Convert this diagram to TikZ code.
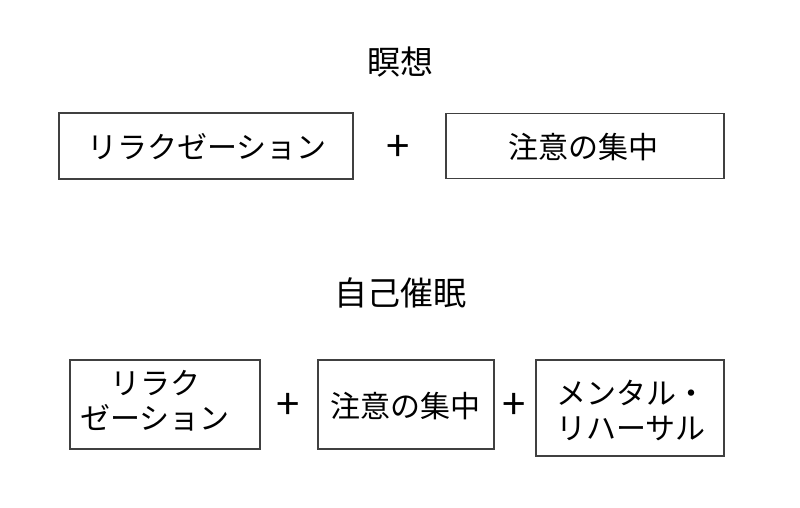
\documentclass[tikz,border=0pt]{standalone}
\usepackage{fontspec}
\setmainfont{Noto Sans CJK JP}
\begin{document}
\begin{tikzpicture}[x=1pt,y=-1pt,
  box/.style={draw=black!75, line width=1.3pt, fill=white, inner sep=0pt, anchor=center},
  txt/.style={font=\fontsize{30}{35}\selectfont, align=center, inner sep=0pt, anchor=center},
  ttl/.style={font=\fontsize{33}{38}\selectfont, inner sep=0pt, anchor=center},
  plus/.style={font=\fontsize{42}{44}\selectfont, inner sep=0pt, anchor=center}]
\useasboundingbox (0,0) rectangle (800,508);
\fill[white] (0,0) rectangle (800,508);
% top
\node[ttl] (t1) at (400,62) {瞑想};
\node[box, minimum width=294pt, minimum height=66pt] (b1) at (206,146) {};
\node[txt] (b1t) at (207,147) {リラクゼーション};
\node[plus] (p1) at (398,148) {+};
\node[box, minimum width=278pt, minimum height=65pt] (b2) at (585,146) {};
\node[txt] (b2t) at (583,147) {注意の集中};
% bottom
\node[ttl] (t2) at (400,293) {自己催眠};
\node[box, minimum width=190pt, minimum height=89pt] (c1) at (165,404.5) {};
\node[txt] (c1t) at (155,401) {リラク\\ゼーション};
\node[plus] (p2) at (288,406) {+};
\node[box, minimum width=176pt, minimum height=89pt] (c2) at (406,404.5) {};
\node[txt] (c2t) at (405,406) {注意の集中};
\node[plus] (p3) at (514,406) {+};
\node[box, minimum width=188pt, minimum height=96pt] (c3) at (630,408) {};
\node[txt] (c3t) at (631,410) {メンタル・\\リハーサル};
\end{tikzpicture}
\end{document}
